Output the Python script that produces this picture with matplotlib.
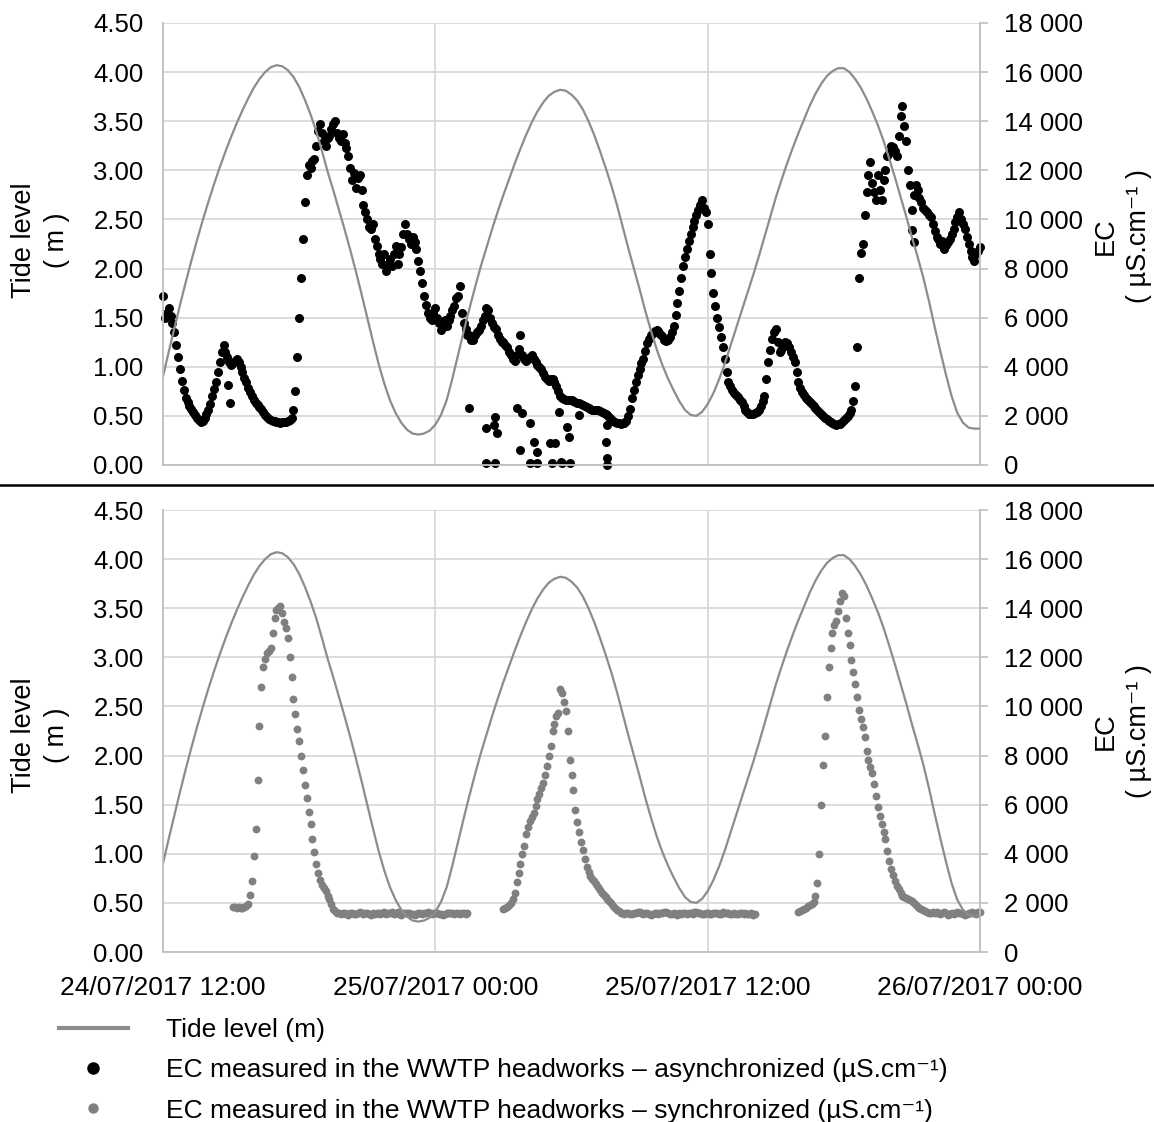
import numpy as np
import pandas as pd
import matplotlib
matplotlib.use("Agg")
import matplotlib.pyplot as plt
import matplotlib.dates as mdates
from matplotlib.lines import Line2D
from matplotlib.ticker import FuncFormatter, MultipleLocator

plt.rcParams["font.family"] = ["Liberation Sans", "DejaVu Sans"]

# --------------------------
# Data
# --------------------------
start = "2017-07-24 12:00"
end = "2017-07-26 00:00"

# tide level (m), every 15 min from start (one row = 3 h)
tide_level = [
    0.90, 1.15, 1.39, 1.63, 1.86, 2.08, 2.29, 2.49, 2.68, 2.86, 3.03, 3.19,
    3.34, 3.48, 3.61, 3.73, 3.84, 3.93, 4.00, 4.05, 4.07, 4.06, 4.02, 3.95,
    3.85, 3.72, 3.57, 3.40, 3.20, 2.99, 2.80, 2.60, 2.40, 2.19, 1.97, 1.74,
    1.50, 1.26, 1.03, 0.83, 0.66, 0.53, 0.43, 0.36, 0.32, 0.31, 0.32, 0.35,
    0.41, 0.51, 0.66, 0.88, 1.12, 1.36, 1.59, 1.81, 2.02, 2.21, 2.40, 2.58,
    2.75, 2.91, 3.07, 3.22, 3.36, 3.49, 3.60, 3.69, 3.76, 3.80, 3.82, 3.81,
    3.77, 3.71, 3.62, 3.50, 3.36, 3.20, 3.03, 2.85, 2.65, 2.43, 2.21, 2.00,
    1.79, 1.57, 1.37, 1.18, 1.02, 0.88, 0.76, 0.65, 0.56, 0.51, 0.50, 0.54,
    0.62, 0.73, 0.87, 1.03, 1.21, 1.39, 1.57, 1.75, 1.93, 2.12, 2.32, 2.52,
    2.72, 2.90, 3.07, 3.23, 3.38, 3.52, 3.66, 3.78, 3.88, 3.96, 4.01, 4.04,
    4.04, 4.00, 3.93, 3.84, 3.73, 3.60, 3.46, 3.30, 3.12, 2.93, 2.73, 2.53,
    2.32, 2.12, 1.91, 1.67, 1.41, 1.16, 0.92, 0.70, 0.53, 0.43, 0.38, 0.37,
    0.37,
]

# EC asynchronized (uS/cm), every 5 min from start (one row = 2 h)
ec_async = [
    6880, 6000, 6200, 6400, 6080, 5800, 5400, 4900, 4400, 3900, 3440, 3050,
    2720, 2560, 2400, 2280, 2160, 2040, 1920, 1840, 1760, 1780, 1920, 2060,
    2240, 2500, 2800, 3100, 3400, 3800, 4200, 4600, 4880, 4600, 4400, 4200,
    4080, 4160, 4240, 4300, 4200, 4000, 3800, 3560, 3360, 3150, 2960, 2800,
    2640, 2540, 2440, 2360, 2280, 2160, 2040, 1960, 1880, 1840, 1800, 1780,
    1760, 1740, 1720, 1740, 1760, 1760, 1800, 1820, 1900, 2240, 3000, 4400,
    6000, 7600, 9200, 10700, 11800, 12200, 12080, 12400, 12480, 13000, 13600, 13900,
    13520, 13200, 13000, 13300, 13400, 13700, 13880, 14000, 13520, 13300, 13200, 13500,
    13120, 12900, 12600, 12100, 11600, 11900, 11280, 11700, 11800, 11200, 10600, 10300,
    10000, 9700, 9600, 9800, 9200, 8900, 8600, 8400, 8200, 8600, 7920, 8200,
    8400, 8100, 8600, 8900, 8200, 8600, 8880, 9400, 9800, 9400, 9200, 9000,
    9280, 9100, 8800, 8300, 7920, 7400, 6880, 6500, 6200, 6000, 5920, 6200,
    6400, 6000, 5800, 5500, 5600, 5900, 5680, 5900, 6080, 6300, 6480, 6800,
    6880, 7300, 6200, 5800, 5520, 5300, 5280, 5100, 5080, 5300, 5400, 5500,
    5680, 5900, 6080, 6400, 6320, 6000, 5800, 5600, 5520, 5300, 5120, 5000,
    5000, 4900, 4800, 4600, 4480, 4300, 4240, 4500, 4720, 5300, 4480, 4300,
    4240, 4300, 4400, 4500, 4320, 4200, 4080, 4000, 3920, 3750, 3600, 3500,
    3440, 3520, 3520, 3400, 3200, 3000, 2800, 2720, 2680, 2660, 2640, 2640,
    2640, 2600, 2560, 2540, 2520, 2480, 2440, 2400, 2360, 2320, 2280, 2260,
    2240, 2240, 2240, 2200, 2160, 2120, 2080, 2020, 1960, 1880, 1800, 1760,
    1720, 1700, 1680, 1700, 1720, 1800, 2000, 2300, 2720, 3050, 3360, 3650,
    3920, 4150, 4320, 4650, 4960, 5150, 5280, 5380, 5440, 5480, 5440, 5340,
    5240, 5100, 5040, 5100, 5200, 5400, 5680, 6100, 6600, 7100, 7600, 8100,
    8480, 8800, 9120, 9400, 9680, 9950, 10200, 10400, 10600, 10800, 10480, 10300,
    9800, 8600, 7800, 7000, 6480, 6000, 5640, 5200, 4800, 4300, 3800, 3400,
    3200, 3050, 2920, 2840, 2760, 2660, 2560, 2400, 2240, 2160, 2080, 2080,
    2080, 2120, 2160, 2250, 2400, 2600, 2800, 3500, 4200, 4700, 5120, 5400,
    5520, 5000, 4600, 4700, 4880, 5000, 4960, 4800, 4600, 4400, 4200, 3800,
    3400, 3150, 2960, 2840, 2720, 2640, 2560, 2480, 2400, 2320, 2240, 2160,
    2080, 2000, 1920, 1860, 1800, 1760, 1720, 1680, 1640, 1650, 1680, 1760,
    1840, 1920, 2000, 2100, 2240, 2600, 3200, 4800, 7600, 8640, 9000, 10200,
    11120, 11800, 12320, 11500, 11120, 10800, 11800, 11200, 10800, 11600, 12000, 12600,
    12720, 13000, 12960, 12800, 12600, 13400, 14200, 14600, 13800, 13200, 12000, 11400,
    10400, 11000, 11400, 11200, 10880, 10700, 10480, 10400, 10320, 10200, 10080, 9800,
    9520, 9300, 9200, 9000, 9120, 8800, 8960, 9100, 9200, 9400, 9600, 9900,
    10080, 10300, 10000, 9800, 9600, 9300, 9000, 8700, 8480, 8300, 8600, 8700,
    8880,
]

# isolated low / stray readings of the asynchronized probe
stray_times = [
    "2017-07-24 14:53", "2017-07-24 14:57",
    "2017-07-25 01:28", "2017-07-25 02:15", "2017-07-25 02:34", "2017-07-25 02:38",
    "2017-07-25 02:43", "2017-07-25 02:15", "2017-07-25 02:38", "2017-07-25 03:36",
    "2017-07-25 03:49", "2017-07-25 03:43", "2017-07-25 04:10", "2017-07-25 04:20",
    "2017-07-25 04:29", "2017-07-25 04:11", "2017-07-25 04:29", "2017-07-25 05:04",
    "2017-07-25 05:17", "2017-07-25 05:08", "2017-07-25 05:31", "2017-07-25 05:35",
    "2017-07-25 05:26", "2017-07-25 05:48", "2017-07-25 05:53", "2017-07-25 05:57",
    "2017-07-25 06:19", "2017-07-25 07:34", "2017-07-25 07:32", "2017-07-25 07:34",
    "2017-07-25 07:34", "2017-07-25 21:01", "2017-07-25 21:06",
]
stray_ec = [
    3260, 2520,
    2310, 1490, 1630, 1970,
    1290, 70, 70, 2310,
    2100, 610, 1700, 950,
    540, 70, 70, 880,
    880, 70, 110, 70,
    2170, 1560, 1150, 70,
    2040, 1630, 950, 270,
    20, 9560, 9100,
]

# EC synchronized (uS/cm), every 5 min from start, None = no data (one row = 2 h)
ec_sync = [
    None, None, None, None, None, None, None, None, None, None, None, None,
    None, None, None, None, None, None, None, None, None, None, None, None,
    None, None, None, None, None, None, None, None, None, None, None, None,
    None, 1840, 1840, 1800, 1840, 1800, 1800, 1840, 1880, 1960, 2320, 2900,
    3900, 5000, 7000, 9200, 10800, 11600, 11920, 12160, 12240, 12400, 13000, 13600,
    13920, 14000, 14080, 13800, 13440, 13200, 12800, 12000, 11200, 10300, 9680, 9100,
    8600, 8000, 7400, 6800, 6280, 5700, 5200, 4600, 4080, 3600, 3200, 2950,
    2720, 2600, 2480, 2300, 2160, 1950, 1760, 1680, 1600, 1580, 1560, 1580,
    1600, 1560, 1520, 1580, 1580, 1540, 1560, 1600, 1640, 1580, 1560, 1600,
    1600, 1540, 1520, 1580, 1560, 1600, 1600, 1560, 1580, 1620, 1540, 1580,
    1600, 1620, 1560, 1580, 1620, 1560, 1520, 1580, 1580, 1600, 1600, 1560,
    1560, 1520, 1540, 1580, 1600, 1560, 1580, 1600, 1640, 1580, 1560, 1600,
    1600, 1580, 1560, 1540, 1520, 1560, 1580, 1600, 1600, 1580, 1560, 1600,
    1600, 1560, 1580, 1600, 1560, 1580, None, None, None, None, None, None,
    None, None, None, None, None, None, None, None, None, None, None, None,
    1760, 1800, 1840, 1920, 2000, 2160, 2400, 2850, 3200, 3600, 4000, 4300,
    4800, 5100, 5320, 5500, 5680, 5950, 6240, 6450, 6680, 6900, 7200, 7560,
    8000, 8400, 9000, 9300, 9600, 9720, 10720, 10560, 10200, 9800, 9000, 7800,
    7200, 6600, 5800, 5300, 4880, 4500, 4160, 3800, 3480, 3250, 3080, 2960,
    2880, 2760, 2640, 2520, 2400, 2320, 2240, 2160, 2080, 1980, 1880, 1800,
    1720, 1660, 1600, 1580, 1560, 1600, 1600, 1560, 1540, 1580, 1580, 1620,
    1620, 1580, 1560, 1600, 1600, 1540, 1520, 1560, 1580, 1600, 1560, 1580,
    1600, 1620, 1640, 1580, 1560, 1540, 1580, 1540, 1520, 1580, 1560, 1600,
    1600, 1560, 1580, 1600, 1560, 1620, 1620, 1580, 1600, 1560, 1560, 1580,
    1580, 1560, 1540, 1600, 1600, 1580, 1560, 1540, 1620, 1580, 1580, 1600,
    1560, 1540, 1600, 1560, 1540, 1600, 1580, 1560, 1600, 1540, 1560, 1580,
    1520, 1560, None, None, None, None, None, None, None, None, None, None,
    None, None, None, None, None, None, None, None, None, None, None, None,
    1640, 1680, 1720, 1760, 1800, 1860, 1920, 1960, 2040, 2300, 2800, 4000,
    6000, 7600, 8800, 10400, 11600, 12400, 13000, 13300, 13500, 13900, 14300, 14600,
    14500, 13600, 13000, 12500, 11900, 11400, 10900, 10400, 9850, 9500, 9150, 8750,
    8200, 7800, 7550, 7300, 6850, 6350, 5900, 5550, 5200, 4900, 4600, 4100,
    3700, 3400, 3150, 2900, 2700, 2550, 2420, 2300, 2230, 2190, 2150, 2110,
    2080, 1980, 1900, 1830, 1780, 1740, 1700, 1660, 1620, 1600, 1580, 1620,
    1600, 1640, 1580, 1560, 1600, 1620, 1580, 1520, 1560, 1600, 1540, 1580,
    1620, 1600, 1580, 1560, 1520, 1560, 1600, 1580, 1620, 1600, 1560, 1640,
    1640,
]

legend_labels = [
    "Tide level (m)",
    "EC measured in the WWTP headworks \u2013 asynchronized (\u00b5S.cm\u207b\u00b9)",
    "EC measured in the WWTP headworks \u2013 synchronized (\u00b5S.cm\u207b\u00b9)",
]

# --------------------------
# Series on a time axis
# --------------------------
tide_time = pd.date_range(start, periods=len(tide_level), freq="15min")
async_time = pd.date_range(start, periods=len(ec_async), freq="5min")
sync_time = pd.date_range(start, periods=len(ec_sync), freq="5min")
stray_time = pd.to_datetime(stray_times)
sync_vals = np.array(ec_sync, dtype=float)

TIDE_C = "#8c8c8c"
SYNC_C = "#808080"
GRID_C = "#d9d9d9"
SPINE_C = "#bfbfbf"
FS_YTICK = 18.5
FS_XTICK = 19
FS_LAB = 19.5

W, H = 1154, 1122
fig = plt.figure(figsize=(W / 100, H / 100), dpi=100)


def panel(top_px, bottom_px, show_dates):
    rect = [163 / W, 1 - bottom_px / H, (980 - 163) / W, (bottom_px - top_px) / H]
    ax = fig.add_axes(rect)
    ax2 = ax.twinx()
    ax.set_zorder(ax2.get_zorder() + 1)
    ax.patch.set_visible(False)

    ax.set_xlim(pd.Timestamp(start), pd.Timestamp(end))
    ax.set_ylim(0, 4.5)
    ax2.set_ylim(0, 18000)

    ax.xaxis.set_major_locator(mdates.HourLocator(byhour=[0, 12]))
    ax.xaxis.set_major_formatter(mdates.DateFormatter("%d/%m/%Y %H:%M"))
    ax.yaxis.set_major_locator(MultipleLocator(0.5))
    ax.yaxis.set_major_formatter(FuncFormatter(lambda v, p: f"{v:.2f}"))
    ax2.yaxis.set_major_locator(MultipleLocator(2000))
    ax2.yaxis.set_major_formatter(FuncFormatter(lambda v, p: f"{v:,.0f}".replace(",", " ")))

    # grid lives on the lower axes so it stays behind the dots
    ax2.xaxis.set_visible(True)
    ax2.tick_params(axis="x", length=0, labelbottom=False, labeltop=False)
    ax2.grid(True, axis="both", color=GRID_C, lw=1.3)
    ax2.set_axisbelow(True)

    for s in ["top", "left", "bottom"]:
        ax2.spines[s].set_visible(False)
    ax2.spines["right"].set_color(SPINE_C)
    ax2.spines["right"].set_linewidth(1.3)
    for s in ["top", "right"]:
        ax.spines[s].set_visible(False)
    for s in ["left", "bottom"]:
        ax.spines[s].set_color(SPINE_C)
        ax.spines[s].set_linewidth(1.3)

    ax.tick_params(axis="y", length=0, pad=14, labelsize=FS_YTICK)
    ax.tick_params(axis="x", length=0, pad=17, labelsize=FS_XTICK, labelbottom=show_dates)
    ax2.tick_params(axis="y", direction="out", length=6, width=1.2, color=SPINE_C,
                    pad=11, labelsize=FS_YTICK)

    ax.plot(tide_time, tide_level, color=TIDE_C, lw=1.6)
    return ax, ax2


# --------------------------
# 1. Asynchronized
# --------------------------
ax, ax2 = panel(23, 465, False)
ax2.scatter(async_time, ec_async, s=42, color="black", linewidths=0, clip_on=False)
ax2.scatter(stray_time, stray_ec, s=42, color="black", linewidths=0, clip_on=False)

# --------------------------
# 2. Synchronized
# --------------------------
bx, bx2 = panel(510, 952, True)
bx2.scatter(sync_time, sync_vals, s=32, color=SYNC_C, linewidths=0, clip_on=False)

# axis titles
for yc in [240, 735]:
    fig.text(41 / W, 1 - yc / H, "Tide level\n( m )", rotation=90, ha="center",
             va="center", ma="center", fontsize=FS_LAB, linespacing=1.35)
    fig.text(1122 / W, 1 - (yc - 4) / H, "EC\n( \u00b5S.cm\u207b\u00b9 )", rotation=90,
             ha="center", va="center", ma="center", fontsize=FS_LAB, linespacing=1.35)

# separator between the panels
fig.add_artist(Line2D([0, 1], [1 - 485 / H, 1 - 485 / H], color="black", lw=1.8,
                      transform=fig.transFigure))

handles = [
    Line2D([], [], color=TIDE_C, lw=3),
    Line2D([], [], marker="o", ls="none", color="black", markersize=8),
    Line2D([], [], marker="o", ls="none", color=SYNC_C, markersize=6.5),
]
fig.legend(handles, legend_labels, loc="upper left", bbox_to_anchor=(59 / W, 1 - 1018 / H),
           frameon=False, fontsize=19, handlelength=2.6, handletextpad=1.45,
           borderpad=0, borderaxespad=0, labelspacing=0.62)

fig.savefig("out.png", dpi=100)
